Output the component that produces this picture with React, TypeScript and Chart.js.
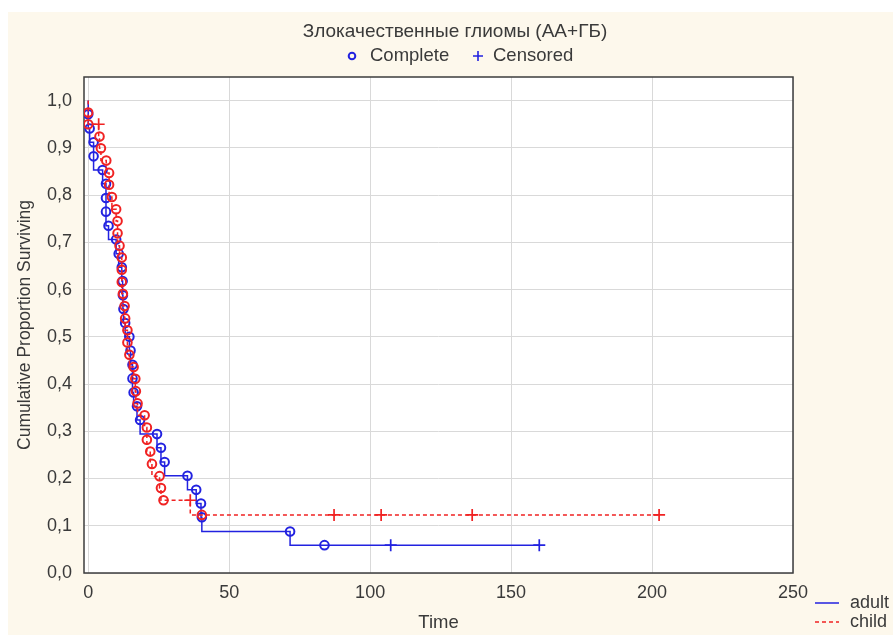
import React, { useEffect, useRef } from 'react';
import { Chart, registerables } from 'chart.js';

Chart.register(...registerables);

// ---- data ----
const titleText = 'Злокачественные глиомы (АА+ГБ)';
const legendComplete = 'Complete';
const legendCensored = 'Censored';
const groupNames = ['adult', 'child'];
const xTitle = 'Time';
const yTitle = 'Cumulative Proportion Surviving';

const xTickValues = [0, 50, 100, 150, 200, 250];
const yTickValues = [0, 0.1, 0.2, 0.3, 0.4, 0.5, 0.6, 0.7, 0.8, 0.9, 1.0];

const adultEventTimes = [0, 0.5, 1.9, 1.9, 5.1, 6.3, 6.3, 6.3, 7.2, 9.9, 10.8, 11.9, 12.2, 12.3, 12.5, 13.1, 14.6, 15.0, 15.7, 15.7, 16.1, 17.3, 18.4, 24.4, 25.8, 27.1, 35.2, 38.3, 40.0, 40.3, 71.6, 83.8];
const adultEventSurv = [0.971, 0.941, 0.912, 0.882, 0.853, 0.824, 0.794, 0.765, 0.735, 0.706, 0.676, 0.647, 0.618, 0.588, 0.559, 0.529, 0.5, 0.471, 0.441, 0.412, 0.382, 0.353, 0.324, 0.294, 0.265, 0.235, 0.206, 0.176, 0.147, 0.118, 0.088, 0.059];
const adultCensTimes = [107.3, 160.0];
const adultCensSurv = [0.059, 0.059];

const childEventTimes = [0, 0, 4.0, 4.5, 6.4, 7.4, 7.4, 8.4, 9.9, 10.4, 10.4, 11.1, 11.9, 11.9, 11.9, 12.3, 12.9, 13.1, 13.9, 13.9, 14.6, 16.1, 16.7, 16.9, 17.5, 20.0, 20.8, 20.8, 22.0, 22.6, 25.3, 25.8, 26.7, 40.3];
const childEventSurv = [0.975, 0.95, 0.924, 0.899, 0.873, 0.847, 0.822, 0.796, 0.77, 0.745, 0.719, 0.693, 0.668, 0.642, 0.616, 0.591, 0.565, 0.539, 0.514, 0.488, 0.462, 0.436, 0.411, 0.385, 0.359, 0.334, 0.308, 0.282, 0.257, 0.231, 0.205, 0.18, 0.154, 0.123];
const childCensTimes = [3.7, 36.2, 87.2, 103.9, 136.2, 202.5];
const childCensSurv = [0.95, 0.154, 0.123, 0.123, 0.123, 0.123];

// ---- styles ----
const BLUE = '#2222e0';
const RED = '#f02222';
const FONT = "'Liberation Sans', Arial, sans-serif";
const TEXT = '#3a3a3a';

type Pt = { x: number; y: number };

function points(ts: number[], ss: number[]): Pt[] {
  return ts.map((t, i) => ({ x: t, y: ss[i] }));
}

function stepPath(ts: number[], ss: number[], cts: number[], css: number[]): Pt[] {
  const all = points(ts, ss).concat(points(cts, css));
  all.sort((a, b) => (a.x - b.x) || (b.y - a.y));
  return [{ x: 0, y: 1 }, ...all];
}

const framePlugin = {
  id: 'frameAndTexts',
  beforeDraw(chart: any) {
    const { ctx, chartArea: a } = chart;
    ctx.save();
    ctx.fillStyle = '#ffffff';
    ctx.fillRect(a.left, a.top, a.right - a.left, a.bottom - a.top);
    ctx.restore();
  },
  beforeDatasetsDraw(chart: any) {
    const { ctx, chartArea: a } = chart;
    ctx.save();
    ctx.strokeStyle = '#3c3c3c';
    ctx.lineWidth = 1.5;
    ctx.strokeRect(a.left, a.top, a.right - a.left, a.bottom - a.top);
    ctx.restore();
  },
  afterDraw(chart: any) {
    const { ctx } = chart;
    ctx.save();
    ctx.fillStyle = TEXT;
    ctx.font = `19px ${FONT}`;
    ctx.textBaseline = 'middle';
    ctx.textAlign = 'center';
    ctx.fillText(titleText, 447, 20);

    // top legend
    ctx.textAlign = 'left';
    ctx.font = `18.5px ${FONT}`;
    ctx.strokeStyle = BLUE;
    ctx.lineWidth = 2;
    ctx.beginPath();
    ctx.arc(344, 44, 3.3, 0, Math.PI * 2);
    ctx.stroke();
    ctx.fillText(legendComplete, 362, 44);
    ctx.lineWidth = 1.6;
    ctx.beginPath();
    ctx.moveTo(465, 44);
    ctx.lineTo(475, 44);
    ctx.moveTo(470, 39);
    ctx.lineTo(470, 49);
    ctx.stroke();
    ctx.fillText(legendCensored, 485, 44);

    // bottom-right legend
    ctx.font = `18px ${FONT}`;
    ctx.lineWidth = 1.5;
    ctx.strokeStyle = BLUE;
    ctx.beginPath();
    ctx.moveTo(807, 591);
    ctx.lineTo(831, 591);
    ctx.stroke();
    ctx.fillText(groupNames[0], 842, 591);
    ctx.strokeStyle = RED;
    ctx.setLineDash([4, 3]);
    ctx.beginPath();
    ctx.moveTo(807, 610);
    ctx.lineTo(831, 610);
    ctx.stroke();
    ctx.setLineDash([]);
    ctx.fillText(groupNames[1], 842, 610);
    ctx.restore();
  },
};

export default function App() {
  const ref = useRef<HTMLCanvasElement>(null);

  useEffect(() => {
    const canvas = ref.current;
    if (!canvas) return;

    const markerCommon = {
      showLine: false,
      borderWidth: 2,
      backgroundColor: 'rgba(255,255,255,0)',
    };

    const chart = new Chart(canvas, {
      type: 'scatter',
      data: {
        datasets: [
          {
            label: 'child complete',
            data: points(childEventTimes, childEventSurv),
            ...markerCommon,
            borderColor: RED,
            pointStyle: 'circle',
            pointRadius: 4.3,
          },
          {
            label: 'child censored',
            data: points(childCensTimes, childCensSurv),
            showLine: false,
            borderColor: RED,
            borderWidth: 1.7,
            pointStyle: 'cross',
            pointRadius: 6,
          },
          {
            label: 'child',
            data: stepPath(childEventTimes, childEventSurv, childCensTimes, childCensSurv),
            showLine: true,
            stepped: 'after',
            borderColor: RED,
            borderWidth: 1.5,
            borderDash: [4, 3],
            pointRadius: 0,
            fill: false,
          },
          {
            label: 'adult complete',
            data: points(adultEventTimes, adultEventSurv),
            ...markerCommon,
            borderColor: BLUE,
            pointStyle: 'circle',
            pointRadius: 4.3,
          },
          {
            label: 'adult censored',
            data: points(adultCensTimes, adultCensSurv),
            showLine: false,
            borderColor: BLUE,
            borderWidth: 1.7,
            pointStyle: 'cross',
            pointRadius: 6,
          },
          {
            label: 'adult',
            data: stepPath(adultEventTimes, adultEventSurv, adultCensTimes, adultCensSurv),
            showLine: true,
            stepped: 'after',
            borderColor: BLUE,
            borderWidth: 1.5,
            pointRadius: 0,
            fill: false,
          },
        ],
      },
      options: {
        animation: false,
        responsive: false,
        layout: { padding: { top: 65, left: 0, right: 100, bottom: 0 } },
        plugins: {
          legend: { display: false },
          title: { display: false },
          tooltip: { enabled: false },
        },
        scales: {
          x: {
            type: 'linear',
            min: -1.5,
            max: 250,
            afterBuildTicks: (s: any) => {
              s.ticks = xTickValues.map((v) => ({ value: v }));
            },
            afterFit: (s: any) => {
              s.height = 62;
            },
            ticks: {
              padding: 9,
              color: TEXT,
              font: { family: FONT, size: 18 },
              maxRotation: 0,
              callback: (v: any) => String(v),
            },
            grid: { color: '#d9d9d9', lineWidth: 1, drawTicks: false },
            border: { display: false },
            title: {
              display: true,
              text: xTitle,
              color: TEXT,
              font: { family: FONT, size: 18.5 },
              padding: { top: 0, bottom: 1 },
            },
          },
          y: {
            type: 'linear',
            min: 0,
            max: 1.05,
            afterBuildTicks: (s: any) => {
              s.ticks = yTickValues.map((v) => ({ value: v }));
            },
            afterFit: (s: any) => {
              s.width = 76;
            },
            ticks: {
              padding: 12,
              color: TEXT,
              font: { family: FONT, size: 18 },
              callback: (v: any) => Number(v).toFixed(1).replace('.', ','),
            },
            grid: { color: '#d9d9d9', lineWidth: 1, drawTicks: false },
            border: { display: false },
            title: {
              display: true,
              text: yTitle,
              color: TEXT,
              font: { family: FONT, size: 17.5 },
              padding: { top: 7, bottom: 0 },
            },
          },
        },
      },
      plugins: [framePlugin],
    } as any);

    return () => chart.destroy();
  }, []);

  return (
    <div
      style={{
        position: 'absolute',
        left: 8,
        top: 12,
        width: 885,
        height: 623,
        background: '#fdf8ec',
      }}
    >
      <canvas ref={ref} width={885} height={623} style={{ display: 'block' }} />
    </div>
  );
}
